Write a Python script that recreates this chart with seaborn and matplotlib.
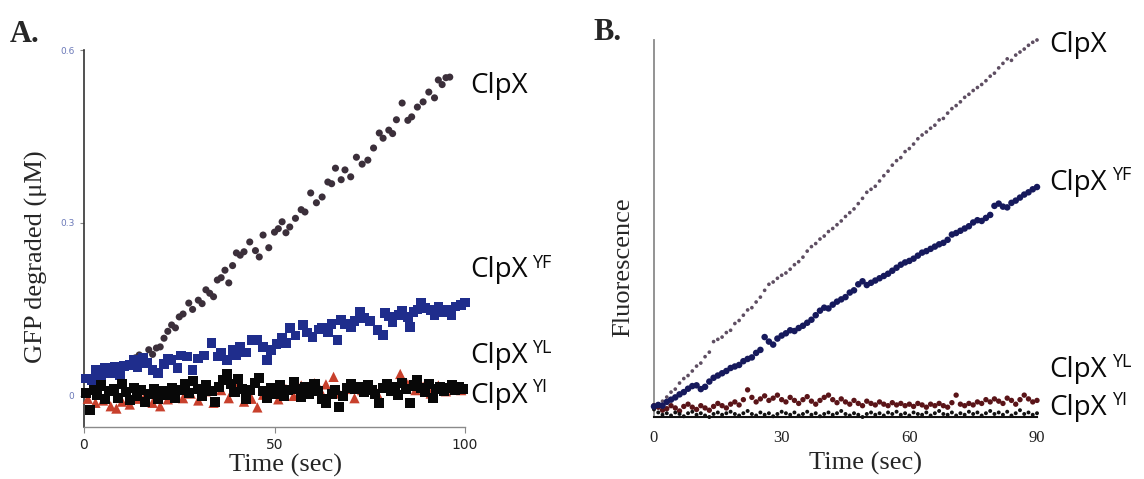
import matplotlib
matplotlib.use("Agg")
import matplotlib.pyplot as plt
import seaborn as sns

# ---- panel A: GFP degraded (uM) vs time (sec) ----
clpx_a_time = [12, 13.5, 14.5, 15.5, 17, 18, 19, 20, 21, 22, 23, 24, 25, 26, 27.5, 28.5, 30, 31, 32, 33,
               34, 35, 36, 37, 38, 39, 40, 41, 42, 43.5, 45, 46, 47, 48.5, 50, 51, 52, 53, 54, 55.5,
               57, 58, 59.5, 61, 62.5, 64, 65, 66, 67.5, 68.5, 70, 71.5, 73, 74.5, 76, 77.5, 78.5, 80, 81, 82,
               83.5, 85, 86, 87.5, 89, 90.5, 92, 93, 94, 95, 96]
clpx_a_val = [0.055, 0.066, 0.071, 0.064, 0.080, 0.072, 0.083, 0.085, 0.100, 0.112, 0.123, 0.118, 0.137, 0.142,
              0.161, 0.150, 0.166, 0.160, 0.184, 0.178, 0.172, 0.201, 0.205, 0.218, 0.196, 0.226, 0.248, 0.244,
              0.250, 0.267, 0.252, 0.241, 0.279, 0.257, 0.284, 0.290, 0.302, 0.283, 0.293, 0.308, 0.323, 0.319,
              0.352, 0.335, 0.345, 0.371, 0.368, 0.395, 0.375, 0.392, 0.380, 0.414, 0.402, 0.409, 0.430, 0.456,
              0.447, 0.461, 0.455, 0.479, 0.508, 0.478, 0.484, 0.501, 0.510, 0.527, 0.517, 0.548, 0.540, 0.552,
              0.553]

yf_a_time = [0.5, 2, 3, 4.5, 5.5, 7, 8, 9.5, 10.5, 12, 13, 14, 15.5, 16.5, 18, 19.5, 21, 22, 23, 24.5,
             25.5, 27, 28.5, 30, 31.5, 33.5, 35, 36, 37.5, 39, 40, 41, 42.5, 44, 45.5, 47, 48, 49, 50.5, 52,
             53, 54, 55.5, 57.5, 58.5, 60, 61.5, 62.5, 64, 65, 66.5, 67.5, 68.5, 70, 71, 72.5, 73.5, 75, 77, 78.5,
             79, 80, 81, 82.5, 83.5, 85, 85.5, 86.5, 87.5, 88.5, 89.5, 91, 92, 93, 94.5, 95.5, 96.5, 97.5, 99, 100]
yf_a_val = [0.030, 0.028, 0.045, 0.035, 0.048, 0.040, 0.050, 0.036, 0.052, 0.054, 0.062, 0.050, 0.066, 0.057,
            0.045, 0.040, 0.055, 0.064, 0.062, 0.048, 0.070, 0.068, 0.045, 0.065, 0.070, 0.092, 0.068, 0.074,
            0.062, 0.080, 0.070, 0.085, 0.075, 0.097, 0.097, 0.085, 0.062, 0.080, 0.090, 0.100, 0.092, 0.118,
            0.105, 0.123, 0.110, 0.102, 0.115, 0.118, 0.110, 0.125, 0.097, 0.132, 0.125, 0.120, 0.130, 0.146,
            0.135, 0.130, 0.114, 0.106, 0.144, 0.138, 0.127, 0.140, 0.148, 0.137, 0.120, 0.145, 0.150, 0.161,
            0.152, 0.149, 0.140, 0.155, 0.145, 0.150, 0.140, 0.155, 0.158, 0.162]

yl_a_time = [1, 3, 5, 7, 8.5, 10, 12, 14, 16, 18, 19, 20, 22, 24, 26, 28, 30, 32, 34, 36, 38, 40, 42, 44, 45.5,
             47, 49, 51, 53, 55, 57, 59, 60.5, 62, 63.5, 65.5, 67, 69, 71, 73, 75, 77, 79, 81, 83, 85, 87, 89,
             91, 93, 95, 97, 99]
yl_a_val = [-0.005, -0.012, -0.008, -0.018, -0.022, -0.010, -0.015, -0.005, 0.000, -0.012, 0.007, -0.018,
            -0.006, 0.005, -0.004, 0.004, -0.008, 0.008, -0.012, 0.010, -0.004, 0.016, -0.010, -0.005, -0.020,
            0.002, 0.008, -0.006, 0.012, 0.000, 0.018, 0.006, 0.022, 0.010, 0.020, 0.033, 0.004, 0.012, -0.004,
            0.010, 0.016, 0.004, 0.020, 0.014, 0.038, 0.020, 0.010, 0.016, 0.004, 0.018, 0.008, 0.014, 0.010]

yi_a_time = [0.5, 1.5, 2.5, 3.5, 4.5, 5.5, 6.5, 8, 9, 10, 11, 12, 13, 14, 15, 16, 17, 18.5, 19.5, 20.5,
             21.5, 23, 24, 25, 26.5, 27.5, 28.5, 30, 31, 32, 33.5, 34.5, 35.5, 36.5, 37.5, 38.5, 39.5, 40.5,
             41.5, 42.5, 43.5, 45, 46, 47, 48, 49, 50.5, 51.5, 52.5, 53.5, 55, 56, 57, 58, 59, 60.5, 61.5, 62.5,
             63.5, 65, 66, 67, 68, 69, 70, 71, 72.5, 73.5, 74.5, 75.5, 76.5, 77.5, 78.5, 79.5, 80.5, 81.5,
             82.5, 83.5, 84.5, 85.5, 86.5, 87.5, 88.5, 89.5, 90.5, 91.5, 92.5, 93.5, 94.5, 95.5, 96.5, 97.5,
             98.5, 99.5]
yi_a_val = [0.005, -0.024, 0.010, 0.002, 0.018, -0.005, 0.008, 0.012, -0.004, 0.020, 0.006, -0.008, 0.014,
            0.000, 0.010, -0.010, 0.004, 0.012, -0.006, 0.008, 0.002, 0.014, -0.004, 0.010, 0.020, 0.005,
            0.026, 0.012, 0.000, 0.018, 0.008, -0.010, 0.015, 0.028, 0.038, 0.020, 0.006, 0.030, 0.012,
            -0.006, 0.010, 0.022, 0.031, 0.008, -0.004, 0.014, 0.004, 0.018, 0.000, 0.010, 0.024, 0.012,
            -0.002, 0.016, 0.004, 0.020, 0.008, -0.006, -0.012, 0.004, 0.010, -0.019, 0.000, 0.014, 0.020,
            0.012, 0.016, 0.006, 0.018, 0.010, 0.004, -0.012, 0.014, 0.020, 0.008, 0.016, 0.002, 0.022,
            0.012, -0.012, 0.018, 0.028, 0.014, 0.006, 0.020, -0.004, 0.012, 0.016, 0.008, 0.014, 0.018,
            0.010, 0.016, 0.012]

# ---- panel B: fluorescence (arb.) vs time (sec), one reading per second ----
time_b = [0, 1, 2, 3, 4, 5, 6, 7, 8, 9, 10, 11, 12, 13, 14, 15, 16, 17, 18, 19, 20, 21, 22, 23, 24, 25,
          26, 27, 28, 29, 30, 31, 32, 33, 34, 35, 36, 37, 38, 39, 40, 41, 42, 43, 44, 45, 46, 47, 48, 49,
          50, 51, 52, 53, 54, 55, 56, 57, 58, 59, 60, 61, 62, 63, 64, 65, 66, 67, 68, 69, 70, 71, 72, 73,
          74, 75, 76, 77, 78, 79, 80, 81, 82, 83, 84, 85, 86, 87, 88, 89, 90]
clpx_b = [0.025, 0.030, 0.042, 0.053, 0.066, 0.074, 0.090, 0.102, 0.110, 0.122,
          0.135, 0.143, 0.160, 0.172, 0.200, 0.206, 0.212, 0.224, 0.230, 0.248,
          0.256, 0.270, 0.284, 0.290, 0.305, 0.318, 0.336, 0.352, 0.358, 0.368,
          0.376, 0.382, 0.392, 0.404, 0.412, 0.424, 0.440, 0.452, 0.460, 0.472,
          0.480, 0.492, 0.500, 0.510, 0.520, 0.532, 0.542, 0.552, 0.566, 0.580,
          0.596, 0.604, 0.612, 0.626, 0.640, 0.652, 0.668, 0.680, 0.688, 0.704,
          0.712, 0.724, 0.738, 0.748, 0.756, 0.766, 0.774, 0.788, 0.792, 0.806,
          0.818, 0.826, 0.836, 0.848, 0.856, 0.866, 0.874, 0.882, 0.892, 0.904,
          0.912, 0.926, 0.938, 0.950, 0.946, 0.960, 0.968, 0.976, 0.986, 0.994, 1.000]
yf_b = [0.028, 0.032, 0.030, 0.040, 0.046, 0.052, 0.060, 0.066, 0.075, 0.082,
        0.084, 0.074, 0.080, 0.094, 0.104, 0.110, 0.116, 0.122, 0.130, 0.134,
        0.138, 0.148, 0.154, 0.158, 0.170, 0.178, 0.212, 0.200, 0.192, 0.208,
        0.216, 0.222, 0.230, 0.228, 0.236, 0.242, 0.250, 0.258, 0.270, 0.282,
        0.290, 0.288, 0.298, 0.306, 0.312, 0.318, 0.330, 0.336, 0.352, 0.360,
        0.350, 0.356, 0.362, 0.368, 0.374, 0.380, 0.388, 0.396, 0.404, 0.410,
        0.414, 0.420, 0.428, 0.436, 0.440, 0.446, 0.452, 0.458, 0.462, 0.470,
        0.484, 0.488, 0.494, 0.500, 0.506, 0.516, 0.522, 0.520, 0.528, 0.536,
        0.560, 0.566, 0.558, 0.556, 0.568, 0.574, 0.582, 0.590, 0.596, 0.604, 0.610]
yl_b = [0.030, 0.026, 0.018, 0.022, 0.030, 0.024, 0.016, 0.028, 0.034, 0.026,
        0.020, 0.030, 0.024, 0.018, 0.028, 0.036, 0.030, 0.024, 0.034, 0.040,
        0.032, 0.046, 0.072, 0.052, 0.040, 0.048, 0.056, 0.044, 0.050, 0.058,
        0.046, 0.040, 0.052, 0.044, 0.036, 0.046, 0.054, 0.042, 0.034, 0.044,
        0.052, 0.058, 0.046, 0.038, 0.048, 0.040, 0.034, 0.044, 0.036, 0.030,
        0.042, 0.036, 0.032, 0.040, 0.034, 0.030, 0.038, 0.032, 0.036, 0.030,
        0.034, 0.028, 0.036, 0.032, 0.026, 0.034, 0.030, 0.036, 0.030, 0.026,
        0.038, 0.058, 0.034, 0.030, 0.036, 0.032, 0.040, 0.036, 0.046, 0.040,
        0.048, 0.042, 0.036, 0.050, 0.044, 0.034, 0.046, 0.058, 0.048, 0.040, 0.044]
yi_b = [0.020, 0.012, 0.006, 0.010, 0.004, 0.012, 0.008, 0.002, 0.010, 0.014,
        0.006, 0.010, 0.004, 0.000, 0.008, 0.012, 0.006, 0.010, 0.014, 0.008,
        0.004, 0.010, 0.016, 0.008, 0.004, 0.012, 0.006, 0.010, 0.002, 0.008,
        0.014, 0.010, 0.006, 0.012, 0.004, 0.008, 0.014, 0.006, 0.010, 0.002,
        0.008, 0.012, 0.006, 0.010, 0.016, 0.008, 0.004, 0.010, 0.006, 0.000,
        0.008, 0.012, 0.006, 0.010, 0.004, 0.012, 0.008, 0.014, 0.006, 0.010,
        0.004, 0.012, 0.008, 0.006, 0.012, 0.004, 0.010, 0.016, 0.008, 0.006,
        0.012, 0.004, 0.010, 0.006, 0.014, 0.008, 0.012, 0.004, 0.010, 0.016,
        0.008, 0.012, 0.006, 0.014, 0.004, 0.010, 0.018, 0.008, 0.012, 0.006, 0.010]

W, H = 1144, 479


def px(x, y):
    # pixel position (from top-left) -> figure fraction
    return x / W, 1 - y / H


def dots(ax, t, v, color, marker, size):
    sns.scatterplot(x=t, y=v, ax=ax, color=color, marker=marker, s=size,
                    linewidth=0, edgecolor="none", clip_on=False, zorder=3)


def clpx_label(x, y, sup=None, x_sup=None, y_sup=None):
    fig.text(*px(x, y), "ClpX", family="Open Sans", fontsize=20, va="baseline", color="#0a0a0a")
    if sup:
        fig.text(*px(x_sup, y_sup), sup, family="Open Sans", fontsize=13, va="baseline", color="#0a0a0a")


sns.set_style("white")
plt.rcParams["font.family"] = ["Liberation Serif", "DejaVu Serif"]

fig = plt.figure(figsize=(W / 100, H / 100), dpi=100)
ax_a = fig.add_axes([84 / W, 52 / H, 381 / W, 377 / H])
ax_b = fig.add_axes([654 / W, 62 / H, 383 / W, 377 / H])

# panel A
dots(ax_a, clpx_a_time, clpx_a_val, "#3b2f3a", "o", 26)
dots(ax_a, yl_a_time, yl_a_val, "#c8402c", "^", 55)
dots(ax_a, yf_a_time, yf_a_val, "#1f2d8c", "s", 48)
dots(ax_a, yi_a_time, yi_a_val, "#080808", "s", 52)

ax_a.set_xlim(0, 100)
ax_a.set_ylim(-0.054, 0.6)
ax_a.set_xticks([0, 50, 100])
ax_a.set_yticks([0, 0.3, 0.6])
ax_a.set_yticklabels(["0", "0.3", "0.6"])
ax_a.tick_params(axis="y", length=3, width=0.8, color="#888888", pad=4,
                 labelsize=6.5, labelcolor="#6a78b8", left=True)
ax_a.tick_params(axis="x", length=4, width=0.8, color="#888888", pad=4,
                 labelsize=10, labelcolor="#222222", bottom=True)
for lab in ax_a.get_xticklabels() + ax_a.get_yticklabels():
    lab.set_family("DejaVu Sans")
sns.despine(ax=ax_a)
ax_a.spines["left"].set_color("#333333")
ax_a.spines["left"].set_linewidth(1.2)
ax_a.spines["bottom"].set_color("#8a8a8a")
ax_a.spines["bottom"].set_linewidth(1.0)
ax_a.set_xlabel("Time (sec)", fontsize=19, va="center")
ax_a.set_ylabel("GFP degraded (\u03bcM)", fontsize=19, va="center")
ax_a.xaxis.set_label_coords(0.528, -0.101)
ax_a.yaxis.set_label_coords(-0.126, 0.451)

# panel B
dots(ax_b, time_b, clpx_b, "#5e4e62", "o", 7)
dots(ax_b, time_b, yl_b, "#5a1418", "o", 15)
dots(ax_b, time_b, yi_b, "#111111", "o", 8)
dots(ax_b, time_b, yf_b, "#16195c", "o", 22)

ax_b.set_xlim(0, 90)
ax_b.set_ylim(0, 1.0)
ax_b.set_xticks([0, 30, 60, 90])
ax_b.set_yticks([])
ax_b.tick_params(axis="x", length=0, pad=9, labelsize=12, labelcolor="#222222")
sns.despine(ax=ax_b)
ax_b.spines["left"].set_color("#8a8a8a")
ax_b.spines["left"].set_linewidth(1.3)
ax_b.spines["bottom"].set_color("#111111")
ax_b.spines["bottom"].set_linewidth(1.5)
ax_b.set_xlabel("Time (sec)", fontsize=19, va="center")
ax_b.set_ylabel("Fluorescence", fontsize=19, va="center")
ax_b.xaxis.set_label_coords(0.553, -0.122)
ax_b.yaxis.set_label_coords(-0.081, 0.398)

# series names and panel letters
clpx_label(470, 93)
clpx_label(470, 277, "YF", 532, 268)
clpx_label(470, 363, "YL", 532, 353)
clpx_label(470, 403, "YI", 532, 392)
clpx_label(1049, 52)
clpx_label(1049, 190, "YF", 1112, 180)
clpx_label(1049, 377, "YL", 1112, 367)
clpx_label(1049, 415, "YI", 1112, 405)

fig.text(*px(10, 42), "A.", fontsize=22, fontweight="bold", va="baseline")
fig.text(*px(593, 40), "B.", fontsize=22, fontweight="bold", va="baseline")

fig.savefig("out.png", dpi=100)
